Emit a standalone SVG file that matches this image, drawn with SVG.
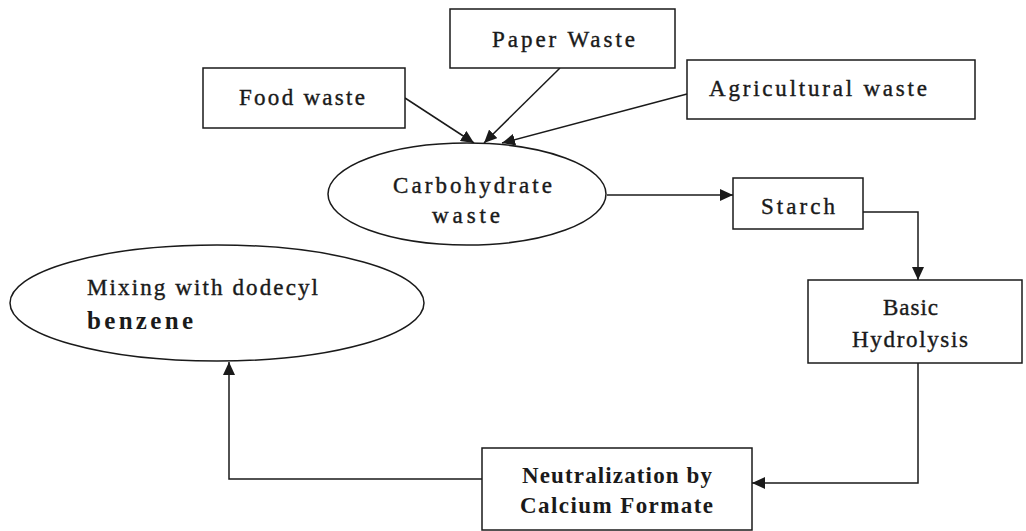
<svg xmlns="http://www.w3.org/2000/svg" width="1026" height="531" viewBox="0 0 1026 531">
<style>
.box{fill:#fff;stroke:#1a1a1a;stroke-width:1.5}
.el{fill:#fff;stroke:#1a1a1a;stroke-width:1.5}
.t{font-family:"Liberation Serif","Times New Roman",serif;font-size:23px;fill:#1a1a1a;stroke:#1a1a1a;stroke-width:0.4}
.b{font-weight:bold;stroke-width:0}
.c{fill:none;stroke:#1a1a1a;stroke-width:1.5}
</style>
<defs>
<marker id="ah" markerUnits="userSpaceOnUse" markerWidth="14" markerHeight="12" refX="13" refY="6" orient="auto">
<path d="M0,0 L13,6 L0,12 Z" fill="#1a1a1a"/>
</marker>
</defs>
<rect width="1026" height="531" fill="#fff"/>
<g id="connectors">
<line class="c" x1="405" y1="98" x2="474" y2="143" marker-end="url(#ah)"/>
<line class="c" x1="560" y1="68" x2="484" y2="143" marker-end="url(#ah)"/>
<line class="c" x1="687" y1="94" x2="502" y2="143" marker-end="url(#ah)"/>
<line class="c" x1="607" y1="195" x2="733" y2="195" marker-end="url(#ah)"/>
<polyline class="c" points="863,212 918,212 918,280" marker-end="url(#ah)"/>
<polyline class="c" points="918,363 918,483 752,483" marker-end="url(#ah)"/>
<polyline class="c" points="482,479 229,479 229,362" marker-end="url(#ah)"/>
</g>
<g id="food-waste">
<rect class="box" x="203" y="68" width="202" height="60"/>
<text class="t" x="239" y="105" textLength="126" lengthAdjust="spacing">Food waste</text>
</g>
<g id="paper-waste">
<rect class="box" x="450" y="9" width="225" height="59"/>
<text class="t" x="492" y="47" textLength="143" lengthAdjust="spacing">Paper Waste</text>
</g>
<g id="agricultural-waste">
<rect class="box" x="687" y="60" width="288" height="59"/>
<text class="t" x="709" y="96" textLength="218" lengthAdjust="spacing">Agricultural waste</text>
</g>
<g id="carbohydrate-waste">
<ellipse class="el" cx="467" cy="194" rx="139" ry="51"/>
<text class="t" x="393" y="193" textLength="159" lengthAdjust="spacing">Carbohydrate</text>
<text class="t" x="432" y="223" textLength="68" lengthAdjust="spacing">waste</text>
</g>
<g id="starch">
<rect class="box" x="733" y="178" width="130" height="51"/>
<text class="t" x="761" y="214" textLength="74" lengthAdjust="spacing">Starch</text>
</g>
<g id="basic-hydrolysis">
<rect class="box" x="808" y="280" width="214" height="83"/>
<text class="t" x="883" y="315" textLength="55" lengthAdjust="spacing">Basic</text>
<text class="t" x="852" y="347" textLength="116" lengthAdjust="spacing">Hydrolysis</text>
</g>
<g id="neutralization">
<rect class="box" x="482" y="448" width="270" height="82"/>
<text class="t b" x="522" y="483" textLength="190" lengthAdjust="spacing">Neutralization by</text>
<text class="t b" x="520" y="513" textLength="193" lengthAdjust="spacing">Calcium Formate</text>
</g>
<g id="mixing">
<ellipse class="el" cx="217" cy="303" rx="207" ry="58"/>
<text class="t" x="87" y="295" textLength="231" lengthAdjust="spacing">Mixing with dodecyl</text>
<text class="t b" x="87" y="329" textLength="106" lengthAdjust="spacing" style="font-size:25px">benzene</text>
</g>
</svg>
